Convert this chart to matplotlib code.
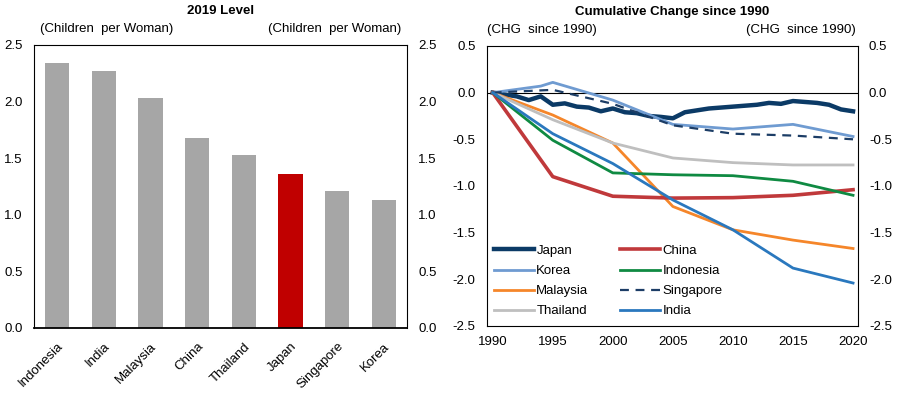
import matplotlib
matplotlib.use("Agg")
import matplotlib.pyplot as plt

plt.rcParams["font.family"] = ["Liberation Sans", "DejaVu Sans"]
plt.rcParams["font.size"] = 9.5

# left panel: 2019 total fertility rate
countries = ["Indonesia", "India", "Malaysia", "China", "Thailand", "Japan", "Singapore", "Korea"]
tfr_2019 = [2.34, 2.27, 2.03, 1.68, 1.53, 1.36, 1.21, 1.13]

# right panel: cumulative change since 1990
yrs5 = [1990, 1995, 2000, 2005, 2010, 2015, 2020]
japan_yrs = list(range(1990, 2021))
japan = [0.0, -0.02, -0.04, -0.08, -0.04, -0.13, -0.115, -0.15, -0.16, -0.20, -0.17,
         -0.21, -0.22, -0.25, -0.26, -0.275, -0.21, -0.19, -0.17, -0.16, -0.15,
         -0.14, -0.13, -0.11, -0.12, -0.09, -0.10, -0.11, -0.13, -0.18, -0.20]
korea_yrs = [1990, 1994, 1995, 2000, 2005, 2010, 2015, 2020]
korea = [0.0, 0.07, 0.11, -0.08, -0.34, -0.39, -0.34, -0.47]
malaysia = [0.0, -0.24, -0.54, -1.22, -1.47, -1.58, -1.67]
thailand = [0.0, -0.29, -0.54, -0.70, -0.75, -0.775, -0.775]
china = [0.0, -0.90, -1.11, -1.13, -1.125, -1.10, -1.04]
indonesia = [0.0, -0.51, -0.86, -0.88, -0.89, -0.95, -1.10]
singapore = [0.0, 0.03, -0.12, -0.35, -0.44, -0.46, -0.50]
india = [0.0, -0.44, -0.76, -1.15, -1.47, -1.88, -2.04]

fig = plt.figure(figsize=(9.03, 3.98), dpi=100)

# ---- left: bars
ax1 = fig.add_axes([0.0377, 0.176, 0.413, 0.711])
cols = ["#C00000" if c == "Japan" else "#A6A6A6" for c in countries]
ax1.bar(range(len(countries)), tfr_2019, width=0.52, color=cols)
ax1.set_xlim(-0.5, len(countries) - 0.5)
ax1.set_ylim(0, 2.5)
ax1.set_yticks([0, 0.5, 1.0, 1.5, 2.0, 2.5])
ax1.set_yticklabels([f"{v:.1f}" for v in ax1.get_yticks()])
ax1.set_xticks(range(len(countries)))
ax1.set_xticklabels(countries, rotation=45, ha="right", rotation_mode="anchor")
ax1.tick_params(length=0, pad=8, labelright=True)
ax1.tick_params(axis="x", pad=9)
ax1.spines["bottom"].set_linewidth(1.3)
for s in ["top", "left", "right"]:
    ax1.spines[s].set_linewidth(0.8)
ax1.set_title("2019 Level", fontweight="bold", fontsize=9.5, pad=22)
ax1.text(0.015, 1.035, "(Children  per Woman)", transform=ax1.transAxes, ha="left", va="bottom")
ax1.text(0.985, 1.035, "(Children  per Woman)", transform=ax1.transAxes, ha="right", va="bottom")

# ---- right: lines
ax2 = fig.add_axes([0.539, 0.181, 0.411, 0.7035])
ax2.axhline(0, color="black", lw=0.8)
h_japan, = ax2.plot(japan_yrs, japan, color="#0B3A66", lw=3.2, label="Japan")
h_korea, = ax2.plot(korea_yrs, korea, color="#6F9BD1", lw=2, label="Korea")
h_mal, = ax2.plot(yrs5, malaysia, color="#F5862A", lw=2, label="Malaysia")
h_tha, = ax2.plot(yrs5, thailand, color="#BFBFBF", lw=2, label="Thailand")
h_chn, = ax2.plot(yrs5, china, color="#C0393B", lw=2.6, label="China")
h_idn, = ax2.plot(yrs5, indonesia, color="#0F8A42", lw=2, label="Indonesia")
h_sgp, = ax2.plot(yrs5, singapore, color="#1C3D66", lw=1.6, ls=(0, (4, 3)), label="Singapore")
h_ind, = ax2.plot(yrs5, india, color="#2A78BE", lw=2, label="India")
ax2.set_xlim(1989.5, 2020.4)
ax2.set_ylim(-2.5, 0.5)
ax2.set_xticks(yrs5)
ax2.set_yticks([-2.5, -2.0, -1.5, -1.0, -0.5, 0.0, 0.5])
ax2.set_yticklabels([f"{v:.1f}" for v in ax2.get_yticks()])
ax2.tick_params(length=0, pad=8, labelright=True)
ax2.tick_params(axis="x", pad=7)
for s in ax2.spines.values():
    s.set_linewidth(0.8)
ax2.set_title("Cumulative Change since 1990", fontweight="bold", fontsize=9.5, pad=22)
ax2.text(0.0, 1.035, "(CHG  since 1990)", transform=ax2.transAxes, ha="left", va="bottom")
ax2.text(0.995, 1.035, "(CHG  since 1990)", transform=ax2.transAxes, ha="right", va="bottom")
ax2.legend(handles=[h_japan, h_korea, h_mal, h_tha, h_chn, h_idn, h_sgp, h_ind],
           ncol=2, frameon=False, loc="lower left", bbox_to_anchor=(-0.012, -0.012),
           handlelength=3.0, handletextpad=0.2, columnspacing=2.4, labelspacing=0.6,
           fontsize=9.5)

fig.savefig("out.png", dpi=100)
